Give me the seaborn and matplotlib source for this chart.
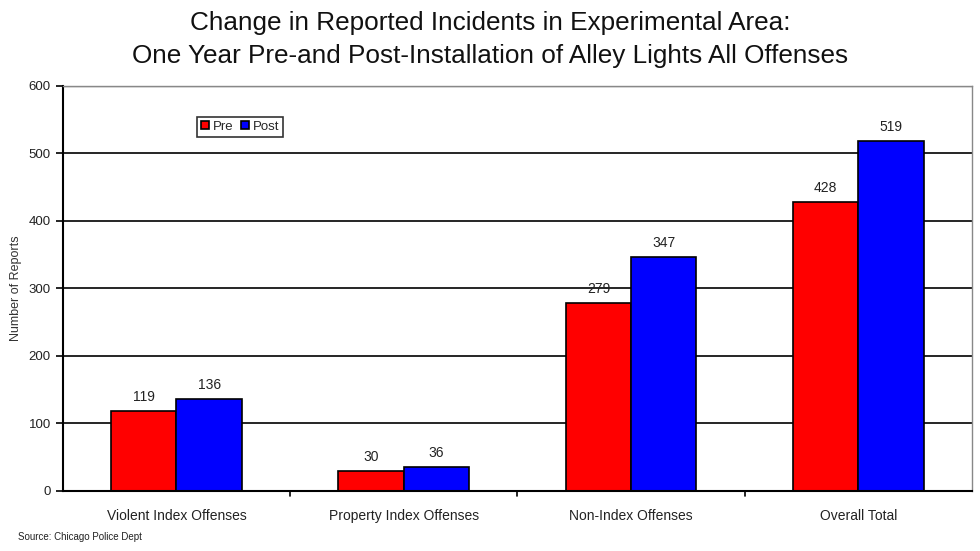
import matplotlib
matplotlib.use("Agg")
import matplotlib.pyplot as plt
import seaborn as sns
import pandas as pd

categories = ["Violent Index Offenses", "Property Index Offenses", "Non-Index Offenses", "Overall Total"]
pre_values = [119, 30, 279, 428]
post_values = [136, 36, 347, 519]
series_names = ["Pre", "Post"]
y_ticks = [0, 100, 200, 300, 400, 500, 600]

df = pd.DataFrame({
    "Category": categories * 2,
    "Series": [series_names[0]] * 4 + [series_names[1]] * 4,
    "Value": pre_values + post_values,
})

sns.set_style("white")
plt.rcParams['font.family'] = ['Liberation Sans', 'DejaVu Sans']

fig = plt.figure(figsize=(9.8, 5.51), dpi=100)
ax = fig.add_axes([0.064, 0.109, 0.928, 0.735])

sns.barplot(data=df, x="Category", y="Value", hue="Series", order=categories,
            hue_order=series_names, palette=["#FF0000", "#0000FF"],
            edgecolor="black", linewidth=1.2, width=0.575, ax=ax, saturation=1)

for cont in ax.containers:
    ax.bar_label(cont, padding=5, fontsize=10, color="#222222")

ax.set_ylim(0, 600)
ax.set_yticks(y_ticks)
ax.set_yticklabels([str(t) for t in y_ticks], fontsize=9.5, color="#222222")
ax.set_xlim(-0.5, 3.5)
ax.set_xticks(range(len(categories)))
ax.set_xticklabels(categories, fontsize=10, color="#222222")
ax.tick_params(axis="x", length=0, pad=13)
ax.tick_params(axis="y", length=5, width=1.2, color="black", left=True, direction="out")
for b in [0.5, 1.5, 2.5]:
    ax.plot([b, b], [0, -0.012], transform=ax.get_xaxis_transform(), color="black", lw=1.2, clip_on=False)

for t in [100, 200, 300, 400, 500]:
    ax.axhline(t, color="black", lw=1.2, zorder=0)
ax.axhline(600, color="#888888", lw=1, zorder=0)

ax.set_axisbelow(True)
ax.set_xlabel("")
ax.set_ylabel("Number of Reports", fontsize=9, color="#333333", labelpad=5)

for s in ["top", "right"]:
    ax.spines[s].set_color("#888888")
    ax.spines[s].set_linewidth(1)
ax.spines["left"].set_color("black")
ax.spines["left"].set_linewidth(1.5)
ax.spines["bottom"].set_color("black")
ax.spines["bottom"].set_linewidth(1.5)

leg = ax.legend(loc="upper left", bbox_to_anchor=(0.14, 0.94), ncol=2, frameon=True,
                fontsize=9.5, handlelength=0.6, handleheight=0.6, handletextpad=0.3,
                columnspacing=0.6, borderpad=0.3, fancybox=False, title=None)
leg.get_frame().set_edgecolor("black")
leg.get_frame().set_linewidth(1.2)

fig.text(0.5, 0.958, "Change in Reported Incidents in Experimental Area:", ha="center", va="center",
         fontsize=18.8, color="#111111")
fig.text(0.5, 0.898, "One Year Pre-and Post-Installation of Alley Lights All Offenses", ha="center",
         va="center", fontsize=18.8, color="#111111")
fig.text(0.018, 0.025, "Source: Chicago Police Dept", fontsize=7, color="#222222", ha="left", va="center")

fig.savefig("out.png", dpi=100)
